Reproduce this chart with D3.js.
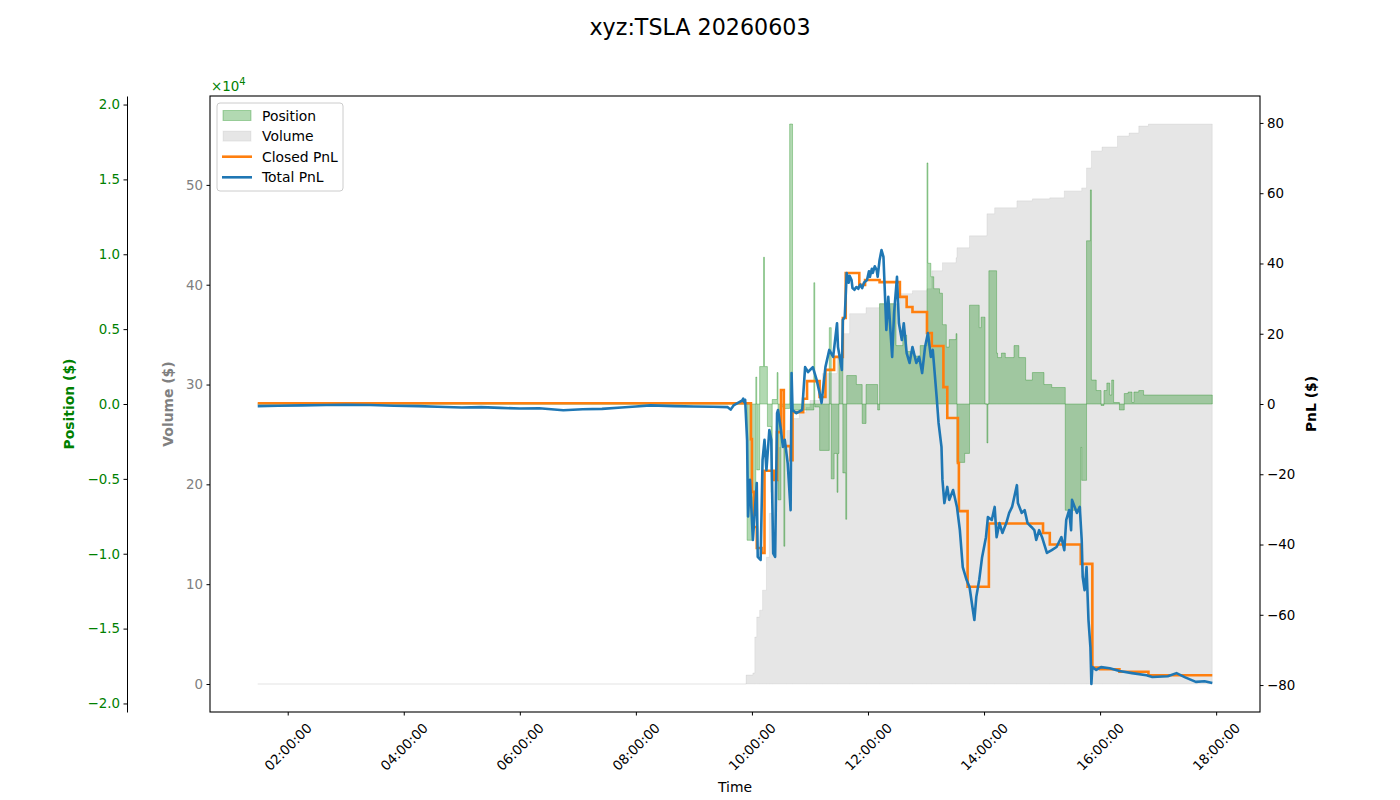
<!DOCTYPE html>
<html>
<head>
<meta charset="utf-8">
<script src="https://cdn.jsdelivr.net/npm/d3@7"></script>
<style>
body { margin: 0; background: #fff; }
text { font-family: "DejaVu Sans", sans-serif; }
</style>
</head>
<body>
<div id="chart"></div>
<script>
var width = 1400;
var height = 800;
var margin = {top: 96, left: 210, right: 140, bottom: 88};
var innerW = width - margin.left - margin.right;
var innerH = height - margin.top - margin.bottom;

var title = "xyz:TSLA 20260603";
var legendLabels = ["Position", "Volume", "Closed PnL", "Total PnL"];

// [time, value] pairs
var totalPnl = [
  ["01:29",-0.6],["01:50",-0.5],["02:15",-0.4],["02:40",-0.3],["03:00",-0.2],["03:25",-0.3],["03:50",-0.5],
  ["04:15",-0.6],["04:35",-0.8],["05:00",-1.0],["05:20",-0.9],["05:40",-1.1],["06:00",-1.3],["06:20",-1.2],
  ["06:45",-1.8],["07:05",-1.5],["07:25",-1.4],["07:45",-1.0],["08:00",-0.7],["08:15",-0.4],["08:40",-0.6],
  ["09:00",-0.7],["09:20",-0.8],["09:35",-0.9],["09:38",-1.6],["09:41",-0.4],["09:46",0.4],["09:50",1.0],
  ["09:51",1.5],["09:52",0.5],["09:53",1.2],["09:55",-10.2],["09:56",-32],["09:58",-21.6],["10:01",-38.7],
  ["10:05",-22.5],["10:06",-43.5],["10:09",-44.4],["10:11",-15.9],["10:13",-10.2],["10:15",-18.8],["10:18",-7.4],
  ["10:20",-10.2],["10:22",-42.5],["10:24",-43.5],["10:26",-2.6],["10:27",-1.7],["10:30",-7.4],["10:32",-12.2],
  ["10:34",-10.2],["10:37",-16.9],["10:40",-30.2],["10:41",8.8],["10:42",-1.7],["10:46",-2.6],["10:52",-1.7],
  ["10:55",10.5],["10:58",9.1],["11:03",10.5],["11:07",6.8],["11:10",3.1],["11:12",0.3],["11:16",10.5],
  ["11:20",15.4],["11:24",13.4],["11:28",23.0],["11:29",16.2],["11:33",9.7],["11:34",23.9],["11:36",24.8],
  ["11:38",37.3],["11:40",34.5],["11:41",36.5],["11:43",35.3],["11:44",33.0],["11:46",32.5],["11:48",33.3],
  ["11:50",32.8],["11:52",34.0],["11:54",33.0],["11:56",34.6],["11:59",35.3],["12:01",37.8],["12:02",36.2],
  ["12:04",38.5],["12:05",37.3],["12:07",39.2],["12:09",38.1],["12:10",36.2],["12:12",41.0],["12:14",43.8],
  ["12:16",41.9],["12:19",21.1],["12:21",30.5],["12:25",13.4],["12:27",25.9],["12:30",36.2],["12:32",23.0],
  ["12:35",18.2],["12:37",23.0],["12:40",14.5],["12:43",11.7],["12:46",16.2],["12:50",11.7],["12:53",13.4],
  ["12:56",8.8],["12:59",16.2],["13:02",20.2],["13:05",13.4],["13:07",15.4],["13:11",2.0],["13:13",-5.4],
  ["13:16",-12.2],["13:17",-21.6],["13:19",-28.2],["13:22",-23.6],["13:24",-27.3],["13:28",-24.5],["13:32",-29.3],
  ["13:35",-35.9],["13:38",-46.4],["13:42",-50.1],["13:45",-52.1],["13:48",-57.8],["13:50",-61.5],["13:52",-54.9],
  ["13:55",-50.1],["13:58",-43.6],["14:02",-37.9],["14:04",-32.2],["14:08",-33.0],["14:11",-29.3],["14:13",-37.9],
  ["14:16",-33.9],["14:19",-36.7],["14:23",-33.9],["14:26",-31.0],["14:29",-29.3],["14:34",-23.1],["14:35",-28.2],
  ["14:39",-31.0],["14:42",-30.2],["14:45",-33.9],["14:49",-35.0],["14:52",-35.9],["14:54",-38.7],["14:57",-35.9],
  ["15:00",-37.9],["15:05",-42.4],["15:10",-41.6],["15:15",-40.7],["15:20",-37.9],["15:23",-41.6],["15:25",-33.0],
  ["15:28",-30.2],["15:30",-35.9],["15:31",-27.3],["15:36",-31.0],["15:39",-29.3],["15:41",-38.7],["15:42",-49.2],
  ["15:44",-53.0],["15:46",-46.4],["15:48",-61.5],["15:50",-69.2],["15:51",-79.7],["15:52",-74.9],["15:56",-75.7],
  ["16:01",-74.9],["16:10",-75.2],["16:20",-76.0],["16:33",-76.6],["16:48",-77.2],["16:54",-77.7],["17:10",-77.5],
  ["17:19",-76.6],["17:28",-77.8],["17:39",-79.1],["17:48",-78.9],["17:56",-79.4]
];

var closedPnl = [
  ["01:29",0.2],["09:59",-10],["10:00",-25],["10:02",-35],["10:05",-41],["10:10",-42.4],["10:13",-19],
  ["10:23",-21.6],["10:26",-8],["10:30",4],["10:33",-12],["10:40",-16],["10:42",-2.3],["10:53",1.5],
  ["10:57",6.5],["11:10",2],["11:16",9.7],["11:25",13.4],["11:34",24.5],["11:37",37.3],["11:51",33.9],
  ["11:57",35.3],["12:12",34.7],["12:33",30.5],["12:40",27.6],["12:46",26.2],["13:01",20.2],["13:06",16.5],
  ["13:18",4.8],["13:22",-4],["13:33",-16.8],["13:34",-30.5],["13:43",-52],["14:05",-34],["15:01",-36.7],
  ["15:08",-40],["15:40",-45.5],["15:52",-75],["16:00",-75.5],["16:20",-76.2],["16:50",-77.2],["17:56",-77.2]
];

var position = [
  ["01:29",0],["09:55",-9100],["10:01",-6200],["10:04",1800],["10:05",-4400],["10:08",2500],["10:12",9800],
  ["10:13",2500],["10:16",-1500],["10:20",-5900],["10:21",300],["10:26",2100],["10:27",-6400],["10:30",-200],
  ["10:33",-9500],["10:34",-300],["10:39",18700],["10:42",-400],["11:04",8100],["11:05",-200],["11:10",-3100],
  ["11:20",5100],["11:22",-5000],["11:25",-3300],["11:28",-5900],["11:29",-3300],["11:30",3300],["11:34",-4600],
  ["11:37",-7700],["11:38",1900],["11:48",1300],["11:54",-1300],["11:58",1300],["12:10",-400],["12:12",6700],
  ["12:29",3900],["12:36",4600],["12:40",3500],["12:48",3200],["12:54",3900],["13:01",16100],["13:02",9400],
  ["13:05",8500],["13:08",7700],["13:14",7400],["13:17",5300],["13:21",3800],["13:24",4300],["13:31",4700],
  ["13:32",-3900],["13:40",-3300],["13:45",6600],["13:55",5100],["13:57",5800],["14:01",0],["14:03",-2600],
  ["14:04",0],["14:05",8900],["14:13",3400],["14:14",3100],["14:18",3400],["14:22",3100],["14:31",3900],
  ["14:36",3100],["14:43",1600],["14:50",2100],["15:02",1300],["15:10",1100],["15:24",-7100],["15:40",-2900],
  ["15:41",-5100],["15:46",10900],["15:50",14300],["15:51",1600],["15:56",900],["16:01",-100],["16:04",900],
  ["16:07",1400],["16:10",600],["16:12",1600],["16:14",100],["16:20",-400],["16:25",700],["16:29",800],
  ["16:33",100],["16:35",800],["16:40",900],["16:45",600],["17:56",600]
];

var volume = [
  ["01:29",0],["09:54",9000],["10:01",11000],["10:03",47000],["10:05",67000],["10:08",74000],["10:11",94000],
  ["10:15",127000],["10:18",171000],["10:21",204000],["10:28",237000],["10:36",254000],["10:42",266000],
  ["10:49",272000],["10:56",277000],["11:00",284000],["11:13",311000],["11:28",327000],["11:34",351000],
  ["11:41",371000],["11:58",377000],["12:12",381000],["12:33",391000],["12:46",394000],["13:01",396000],
  ["13:06",414000],["13:17",422000],["13:31",427000],["13:32",437000],["13:45",449000],["14:03",471000],
  ["14:11",477000],["14:34",484000],["14:50",486000],["15:08",487000],["15:23",494000],["15:41",497000],
  ["15:46",517000],["15:51",534000],["16:02",538000],["16:18",549000],["16:30",552000],["16:40",559000],
  ["16:50",561000],["17:56",561000]
];

var volumeTicks = [0, 100000, 200000, 300000, 400000, 500000];
var positionTicks = [-20000, -15000, -10000, -5000, 0, 5000, 10000, 15000, 20000];
var pnlTicks = [-80, -60, -40, -20, 0, 20, 40, 60, 80];

var parseTime = d3.timeParse("%H:%M");
function toPoints(arr) {
  return arr.map(function(d) { return {t: parseTime(d[0]), v: d[1]}; });
}
var totalPts = toPoints(totalPnl);
var closedPts = toPoints(closedPnl);
var posPts = toPoints(position);
var volPts = toPoints(volume);

var svg = d3.select("#chart")
    .append("svg")
    .attr("width", width)
    .attr("height", height);

var g = svg.append("g")
    .attr("transform", "translate(" + margin.left + "," + margin.top + ")");

// x: data extent plus 5% each side (matplotlib margins)
var tExt = d3.extent(totalPts, function(d) { return d.t; });
var tPad = (tExt[1] - tExt[0]) * 0.05;
var x = d3.scaleTime()
    .domain([new Date(+tExt[0] - tPad), new Date(+tExt[1] + tPad)])
    .range([0, innerW]);

var vMax = d3.max(volPts, function(d) { return d.v; });
var yVol = d3.scaleLinear()
    .domain([-vMax * 0.05, vMax * 1.05])
    .range([innerH, 0]);

var pMax = d3.max(posPts, function(d) { return Math.abs(d.v); }) * 1.1;
var yPos = d3.scaleLinear()
    .domain([-pMax, pMax])
    .range([innerH, 0]);

var pnlMax = d3.max(totalPts.concat(closedPts), function(d) { return Math.abs(d.v); }) * 1.1;
var yPnl = d3.scaleLinear()
    .domain([-pnlMax, pnlMax])
    .range([innerH, 0]);

// volume (grey, behind)
var volArea = d3.area()
    .curve(d3.curveStepAfter)
    .x(function(d) { return x(d.t); })
    .y0(yVol(0))
    .y1(function(d) { return yVol(d.v); });

g.append("path")
    .datum(volPts)
    .attr("d", volArea)
    .attr("fill", "gray")
    .attr("fill-opacity", 0.2)
    .attr("stroke", "gray")
    .attr("stroke-opacity", 0.12)
    .attr("stroke-width", 1);

// position (green fill from zero)
var posArea = d3.area()
    .curve(d3.curveStepAfter)
    .x(function(d) { return x(d.t); })
    .y0(yPos(0))
    .y1(function(d) { return yPos(d.v); });

g.append("path")
    .datum(posPts)
    .attr("d", posArea)
    .attr("fill", "green")
    .attr("fill-opacity", 0.3)
    .attr("stroke", "green")
    .attr("stroke-opacity", 0.3)
    .attr("stroke-width", 1);

// pnl lines
var closedLine = d3.line()
    .curve(d3.curveStepAfter)
    .x(function(d) { return x(d.t); })
    .y(function(d) { return yPnl(d.v); });

var totalLine = d3.line()
    .x(function(d) { return x(d.t); })
    .y(function(d) { return yPnl(d.v); });

g.append("path")
    .datum(closedPts)
    .attr("d", closedLine)
    .attr("fill", "none")
    .attr("stroke", "#ff7f0e")
    .attr("stroke-width", 2.6);

g.append("path")
    .datum(totalPts)
    .attr("d", totalLine)
    .attr("fill", "none")
    .attr("stroke", "#1f77b4")
    .attr("stroke-width", 2.6)
    .attr("stroke-linejoin", "round");

// frame
g.append("rect")
    .attr("width", innerW)
    .attr("height", innerH)
    .attr("fill", "none")
    .attr("stroke", "#000")
    .attr("stroke-width", 1.1);

function styleAxis(sel, color) {
  sel.selectAll("text")
      .attr("font-family", "DejaVu Sans, sans-serif")
      .attr("font-size", 13.4)
      .attr("fill", color);
  sel.selectAll("line").attr("stroke", "#000");
  sel.select(".domain").attr("stroke", "#000");
}

var minus = function(s) { return s.replace("-", "\u2212"); };

// volume axis on left spine
var volAxis = g.append("g")
    .call(d3.axisLeft(yVol).tickValues(volumeTicks).tickSize(3.5).tickPadding(3.5).tickSizeOuter(0)
      .tickFormat(function(d) { return d / 1e4; }));
styleAxis(volAxis, "gray");
volAxis.select(".domain").remove();

// position axis, offset to the left
var posAxis = g.append("g")
    .attr("transform", "translate(-83,0)")
    .call(d3.axisLeft(yPos).tickValues(positionTicks).tickSize(3.5).tickPadding(3.5).tickSizeOuter(0)
      .tickFormat(function(d) { return minus((d / 1e4).toFixed(1)); }));
styleAxis(posAxis, "green");

// pnl axis on right spine
var pnlAxis = g.append("g")
    .attr("transform", "translate(" + innerW + ",0)")
    .call(d3.axisRight(yPnl).tickValues(pnlTicks).tickSize(3.5).tickPadding(3.5).tickSizeOuter(0)
      .tickFormat(function(d) { return minus(String(d)); }));
styleAxis(pnlAxis, "#000");
pnlAxis.select(".domain").remove();

// time axis
var xAxis = g.append("g")
    .attr("transform", "translate(0," + innerH + ")")
    .call(d3.axisBottom(x).ticks(d3.timeHour.every(2)).tickSize(3.5).tickSizeOuter(0)
      .tickFormat(d3.timeFormat("%H:%M:%S")));
styleAxis(xAxis, "#000");
xAxis.select(".domain").remove();
xAxis.selectAll("text")
    .attr("y", 0)
    .attr("dy", null)
    .attr("dominant-baseline", "central")
    .attr("text-anchor", "middle")
    .attr("transform", "translate(0,35) rotate(-45)");

// offset text
svg.append("text")
    .attr("x", 211)
    .attr("y", 91)
    .attr("fill", "green")
    .attr("font-size", 13.4)
    .text("\u00d710")
  .append("tspan")
    .attr("dy", -6)
    .attr("font-size", 10)
    .text("4");

// axis labels
svg.append("text")
    .attr("transform", "translate(69," + (margin.top + innerH / 2) + ") rotate(-90)")
    .attr("text-anchor", "middle")
    .attr("dominant-baseline", "central")
    .attr("font-size", 13.9)
    .attr("font-weight", "bold")
    .attr("fill", "green")
    .text("Position ($)");

svg.append("text")
    .attr("transform", "translate(168," + (margin.top + innerH / 2) + ") rotate(-90)")
    .attr("text-anchor", "middle")
    .attr("dominant-baseline", "central")
    .attr("font-size", 13.9)
    .attr("font-weight", "bold")
    .attr("fill", "gray")
    .text("Volume ($)");

svg.append("text")
    .attr("transform", "translate(1311," + (margin.top + innerH / 2) + ") rotate(-90)")
    .attr("text-anchor", "middle")
    .attr("dominant-baseline", "central")
    .attr("font-size", 13.9)
    .attr("font-weight", "bold")
    .attr("fill", "#000")
    .text("PnL ($)");

svg.append("text")
    .attr("x", margin.left + innerW / 2)
    .attr("y", 787)
    .attr("text-anchor", "middle")
    .attr("dominant-baseline", "central")
    .attr("font-size", 13.9)
    .text("Time");

svg.append("text")
    .attr("x", width / 2)
    .attr("y", 27)
    .attr("text-anchor", "middle")
    .attr("dominant-baseline", "central")
    .attr("font-size", 22.2)
    .text(title);

// legend
var legend = svg.append("g").attr("transform", "translate(217,103)");
legend.append("rect")
    .attr("width", 126)
    .attr("height", 88)
    .attr("rx", 3)
    .attr("fill", "#fff")
    .attr("fill-opacity", 0.8)
    .attr("stroke", "#ccc");

var items = legend.selectAll("g.item")
    .data(legendLabels)
    .enter().append("g")
    .attr("class", "item")
    .attr("transform", function(d, i) { return "translate(0," + (12.5 + i * 20.6) + ")"; });

items.each(function(d, i) {
  var it = d3.select(this);
  if (i === 0) {
    it.append("rect").attr("x", 6).attr("y", -5).attr("width", 28).attr("height", 10)
      .attr("fill", "green").attr("fill-opacity", 0.3).attr("stroke", "green").attr("stroke-opacity", 0.3);
  } else if (i === 1) {
    it.append("rect").attr("x", 6).attr("y", -5).attr("width", 28).attr("height", 10)
      .attr("fill", "gray").attr("fill-opacity", 0.2).attr("stroke", "gray").attr("stroke-opacity", 0.12);
  } else {
    it.append("line").attr("x1", 5).attr("x2", 35).attr("y1", 0).attr("y2", 0)
      .attr("stroke", i === 2 ? "#ff7f0e" : "#1f77b4").attr("stroke-width", 2.6);
  }
  it.append("text")
    .attr("x", 45)
    .attr("y", 0)
    .attr("dominant-baseline", "central")
    .attr("font-size", 13.9)
    .text(d);
});
</script>
</body>
</html>
